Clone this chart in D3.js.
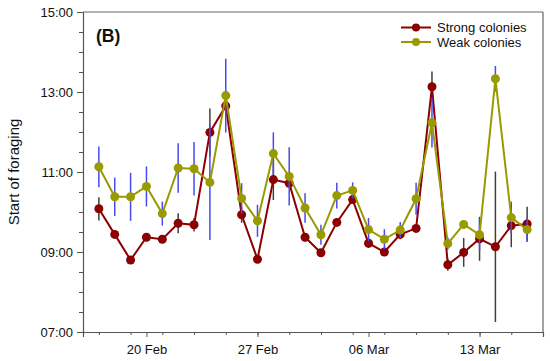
<!DOCTYPE html>
<html>
<head>
<meta charset="utf-8">
<script src="https://cdn.jsdelivr.net/npm/d3@7"></script>
<style>
  html, body { margin: 0; padding: 0; background: #fff; }
  svg { display: block; font-family: "Liberation Sans", Arial, sans-serif; }
</style>
</head>
<body>
<svg id="chart" width="550" height="361"></svg>
<script>
// ---- data ----
const dates = [
  "2015-02-17","2015-02-18","2015-02-19","2015-02-20","2015-02-21","2015-02-22","2015-02-23",
  "2015-02-24","2015-02-25","2015-02-26","2015-02-27","2015-02-28","2015-03-01","2015-03-02",
  "2015-03-03","2015-03-04","2015-03-05","2015-03-06","2015-03-07","2015-03-08","2015-03-09",
  "2015-03-10","2015-03-11","2015-03-12","2015-03-13","2015-03-14","2015-03-15","2015-03-16"
];
// start of foraging, decimal hours
const strongMean = [10.08, 9.44, 8.80, 9.37, 9.32, 9.72, 9.68, 11.99, 12.65, 9.93, 8.82, 10.81, 10.72, 9.37,
                    8.98, 9.74, 10.31, 9.22, 9.00, 9.44, 9.59, 13.13, 8.68, 8.99, 9.33, 9.13, 9.66, 9.70];
const strongErr  = [0.29, 0.10, 0.07, 0.07, 0.07, 0.25, 0.17, 0.60, 0.10, 0.20, 0.10, 0.51, 0.08, 0.10,
                    0.08, 0.08, 0.10, 0.12, 0.08, 0.12, 0.08, 0.38, 0.15, 0.36, 0.55, 1.88, 0.54, 0.43];
const weakMean   = [11.13, 10.38, 10.38, 10.64, 9.96, 11.10, 11.08, 10.74, 12.91, 10.34, 9.78, 11.46, 10.89, 10.10,
                    9.43, 10.41, 10.54, 9.56, 9.32, 9.55, 10.33, 12.23, 9.21, 9.69, 9.43, 13.33, 9.86, 9.56];
const weakErr    = [0.51, 0.48, 0.60, 0.50, 0.30, 0.62, 0.67, 1.44, 0.92, 0.38, 0.40, 0.53, 0.73, 0.37,
                    0.25, 0.32, 0.20, 0.29, 0.25, 0.20, 0.40, 0.62, 0.15, 0.08, 0.40, 0.32, 0.40, 0.31];

const yTickValues = [7, 9, 11, 13, 15];
const yTickLabels = ["07:00", "09:00", "11:00", "13:00", "15:00"];
const xTickDates  = ["2015-02-20", "2015-02-27", "2015-03-06", "2015-03-13"];
const xTickLabels = ["20 Feb", "27 Feb", "06 Mar", "13 Mar"];
const seriesNames = ["Strong colonies", "Weak colonies"];
const xDomain = ["2015-02-16", "2015-03-17"];

(function () {
// ---- layout ----
const parse = d3.utcParse("%Y-%m-%d");
const pL = 83, pR = 543, pT = 12, pB = 332;
const svg = d3.select("#chart");

const x = d3.scaleUtc().domain(xDomain.map(parse)).range([pL, pR]);
const y = d3.scaleLinear().domain([7, 15]).range([pB, pT]);

const axisColor = "#555";

// minor y ticks (every 30 min)
const yMinor = d3.range(7, 15.001, 0.5);
svg.append("g").attr("transform", `translate(${pL},0)`)
  .call(d3.axisLeft(y).tickValues(yMinor).tickSize(4).tickFormat(""))
  .call(g => g.selectAll("path").remove())
  .call(g => g.selectAll("line").attr("stroke", axisColor));

// major y axis
const yAxis = svg.append("g").attr("transform", `translate(${pL},0)`)
  .call(d3.axisLeft(y).tickValues(yTickValues).tickSize(6).tickPadding(4)
    .tickFormat((d, i) => yTickLabels[i]));
yAxis.select("path").attr("stroke", axisColor).attr("stroke-width", 1.2);
yAxis.selectAll("line").attr("stroke", axisColor);
yAxis.selectAll("text").attr("font-size", 13).attr("fill", "#111")
  .attr("font-family", "Liberation Sans, Arial, sans-serif");

// minor x ticks (every 2 days from 17 Feb)
const xMinor = dates.filter((d, i) => i % 2 === 0).map(parse).concat([parse(xDomain[1])]);
svg.append("g").attr("transform", `translate(0,${pB})`)
  .call(d3.axisBottom(x).tickValues(xMinor).tickSize(3).tickFormat(""))
  .call(g => g.selectAll("path").remove())
  .call(g => g.selectAll("line").attr("stroke", axisColor));

// major x axis
const xAxis = svg.append("g").attr("transform", `translate(0,${pB})`)
  .call(d3.axisBottom(x).tickValues(xTickDates.map(parse)).tickSize(5).tickPadding(8)
    .tickFormat((d, i) => xTickLabels[i]));
xAxis.select("path").attr("stroke", axisColor).attr("stroke-width", 1.2);
xAxis.selectAll("line").attr("stroke", axisColor);
xAxis.selectAll("text").attr("font-size", 13).attr("fill", "#111")
  .attr("font-family", "Liberation Sans, Arial, sans-serif");

// frame top and right
svg.append("line").attr("x1", pL).attr("x2", pR).attr("y1", pT).attr("y2", pT)
  .attr("stroke", "#666").attr("stroke-width", 1.2);
svg.append("line").attr("x1", pR).attr("x2", pR).attr("y1", pT).attr("y2", pB)
  .attr("stroke", "#666").attr("stroke-width", 1.2);

// y axis title
svg.append("text")
  .attr("transform", `translate(19,${(pT + pB) / 2}) rotate(-90)`)
  .attr("text-anchor", "middle")
  .attr("font-size", 15)
  .attr("fill", "#111")
  .text("Start of foraging");

// panel label
svg.append("text").attr("x", 96).attr("y", 41.5)
  .attr("font-size", 17.5).attr("font-weight", "bold").attr("fill", "#111")
  .text("(B)");

// ---- series ----
const series = [
  { name: seriesNames[0], mean: strongMean, err: strongErr, color: "#8b0000", errColor: "#404040" },
  { name: seriesNames[1], mean: weakMean,   err: weakErr,   color: "#999900", errColor: "#4a4af0" }
];

const line = d3.line().x(d => x(d.date)).y(d => y(d.v));

series.forEach(s => {
  const pts = dates.map((d, i) => ({ date: parse(d), v: s.mean[i], e: s.err[i] }));
  const g = svg.append("g");
  g.selectAll("line.err").data(pts).join("line")
    .attr("class", "err")
    .attr("x1", d => x(d.date)).attr("x2", d => x(d.date))
    .attr("y1", d => y(d.v + d.e)).attr("y2", d => y(d.v - d.e))
    .attr("stroke", s.errColor).attr("stroke-width", 1.5);
  g.append("path").datum(pts)
    .attr("d", line).attr("fill", "none")
    .attr("stroke", s.color).attr("stroke-width", 2);
  g.selectAll("circle").data(pts).join("circle")
    .attr("cx", d => x(d.date)).attr("cy", d => y(d.v)).attr("r", 4.5)
    .attr("fill", s.color);
});

// ---- legend ----
const legend = svg.append("g");
series.forEach((s, i) => {
  const cy = 27.5 + i * 14.5;
  legend.append("line").attr("x1", 401).attr("x2", 431).attr("y1", cy).attr("y2", cy)
    .attr("stroke", s.color).attr("stroke-width", 2);
  legend.append("circle").attr("cx", 416).attr("cy", cy).attr("r", 4).attr("fill", s.color);
  legend.append("text").attr("x", 437).attr("y", cy + 4.5)
    .attr("font-size", 13).attr("fill", "#111").text(s.name);
});
})();
</script>
</body>
</html>
